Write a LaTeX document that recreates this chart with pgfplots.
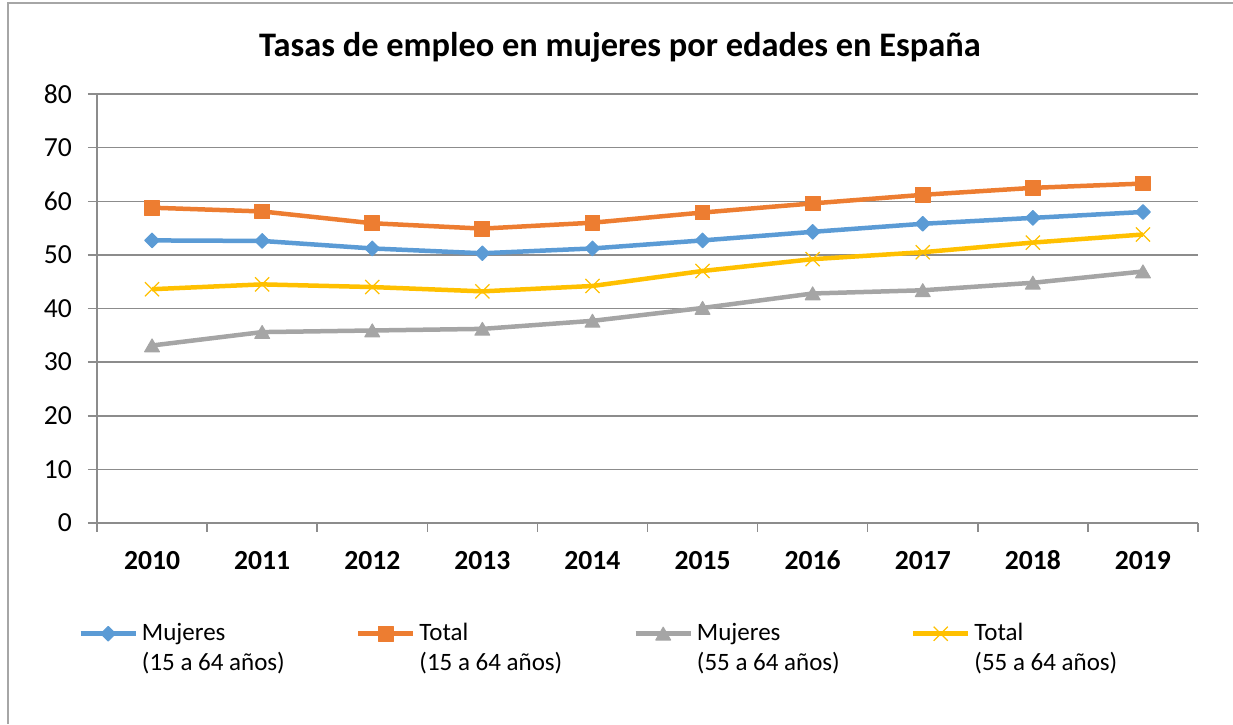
\documentclass[border=0pt]{standalone}
\usepackage{fontspec}
\setmainfont{Carlito}
\usepackage{pgfplots}
\pgfplotsset{compat=1.18}
\definecolor{cblue}{HTML}{5B9BD5}
\definecolor{corange}{HTML}{ED7D31}
\definecolor{cgray}{HTML}{A5A5A5}
\definecolor{cyellow}{HTML}{FFC000}
\definecolor{gridgray}{HTML}{8C8C8C}
\definecolor{framegray}{HTML}{A6A6A6}
\begin{document}
\begin{tikzpicture}[x=1pt,y=1pt]
\useasboundingbox (0,0) rectangle (616.5,362);
\draw[color=framegray, line width=0.75pt] (4,0) -- (4,360.5) -- (616.5,360.5);
\node[font=\fontsize{17.2}{20}\selectfont\bfseries] at (310,338.5) {Tasas de empleo en mujeres por edades en España};
\begin{axis}[
  at={(48.5pt,100.5pt)}, anchor=south west,
  scale only axis, width=550.5pt, height=214.5pt,
  xmin=-0.5, xmax=9.5, ymin=0, ymax=80,
  axis x line=bottom, axis y line=left,
  axis line style={-, color=gridgray, line width=0.75pt},
  ytick={0,10,...,80},
  ymajorgrids,
  grid style={color=gridgray, line width=0.75pt},
  xtick={0,...,9},
  xticklabels={2010,2011,2012,2013,2014,2015,2016,2017,2018,2019},
  minor xtick={-0.5,0.5,...,9.5},
  tick align=outside,
  major tick length=4.5pt, minor tick length=4.5pt,
  major x tick style={draw=none},
  y tick style={color=gridgray, line width=0.75pt},
  minor x tick style={color=gridgray, line width=0.75pt},
  xticklabel style={font=\fontsize{13.8}{16}\selectfont\bfseries, text height=8.8pt, text depth=0pt, yshift=-6.5pt},
  yticklabel style={font=\fontsize{13.8}{16}\selectfont, xshift=-4.5pt},
  /pgf/number format/assume math mode=true,
  clip=false,
  legend columns=4,
  legend style={at={(axis description cs:-0.0172,-0.233)}, anchor=north west,
    draw=none, fill=none, font=\fontsize{12.5}{15}\selectfont,
    inner xsep=0pt, inner ysep=0pt,
    nodes={inner sep=0pt},
    cells={anchor=base west},
    /tikz/every odd column/.append style={column sep=2pt},
    /tikz/every even column/.append style={column sep=7pt}},
  legend image code/.code={\draw[mark repeat=2, mark phase=2, #1] plot coordinates {(0pt,3.5pt) (13.75pt,3.5pt) (27.5pt,3.5pt)};},
  every axis plot/.append style={line width=2.25pt, line join=round},
]
\addplot[cblue, mark=square*, mark size=2.6pt, mark options={rotate=45, line width=0.5pt, fill=cblue, draw=cblue}]
  coordinates {(0,52.7) (1,52.6) (2,51.2) (3,50.3) (4,51.2) (5,52.7) (6,54.3) (7,55.8) (8,56.9) (9,58.0)};
\addlegendentry{\parbox[t]{100pt}{Mujeres\\(15 a 64 años)}}
\addplot[corange, mark=square*, mark size=3.7pt, mark options={line width=0.5pt, fill=corange, draw=corange}]
  coordinates {(0,58.8) (1,58.1) (2,55.9) (3,54.9) (4,56.0) (5,57.9) (6,59.6) (7,61.2) (8,62.5) (9,63.3)};
\addlegendentry{\parbox[t]{100pt}{Total\\(15 a 64 años)}}
\addplot[cgray, mark=triangle*, mark size=4.3pt, mark options={yshift=-1pt, line width=0.5pt, fill=cgray, draw=cgray}]
  coordinates {(0,33.1) (1,35.6) (2,35.9) (3,36.2) (4,37.7) (5,40.1) (6,42.8) (7,43.4) (8,44.8) (9,46.9)};
\addlegendentry{\parbox[t]{100pt}{Mujeres\\(55 a 64 años)}}
\addplot[cyellow, mark=x, mark size=5pt, mark options={line width=0.6pt, draw=cyellow}]
  coordinates {(0,43.6) (1,44.5) (2,44.0) (3,43.2) (4,44.2) (5,47.0) (6,49.2) (7,50.5) (8,52.3) (9,53.8)};
\addlegendentry{\parbox[t]{100pt}{Total\\(55 a 64 años)}}
\end{axis}
\end{tikzpicture}
\end{document}
